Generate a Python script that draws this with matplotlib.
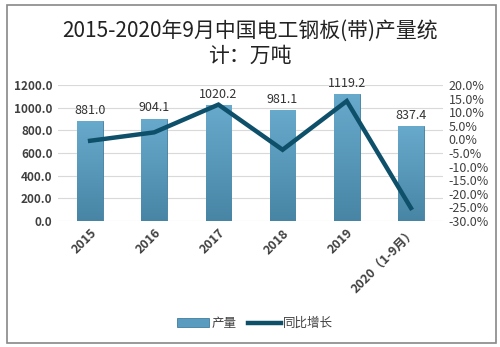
from matplotlib import pyplot as plt
from matplotlib.patches import Rectangle
from matplotlib.colors import LinearSegmentedColormap
from matplotlib.ticker import FuncFormatter
import numpy as np

plt.rcParams['font.family'] = ['Noto Sans CJK SC', 'DejaVu Sans']

years = ['2015', '2016', '2017', '2018', '2019', '2020（1-9月）']
output = [881.0, 904.1, 1020.2, 981.1, 1119.2, 837.4]
growth = [-0.5, 2.6, 12.8, -3.8, 14.1, -25.2]

fig = plt.figure(figsize=(5, 3.47), dpi=100)
fig.patches.append(Rectangle((0.013, 0.012), 0.978, 0.974, transform=fig.transFigure,
                             fill=False, edgecolor='#888888', linewidth=1.2))

ax = fig.add_axes([0.116, 0.363, 0.77, 0.392])
x = np.arange(len(years))
bars = ax.bar(x, output, width=0.4, color='#5a9cc0', edgecolor='#3f7d9e',
              linewidth=0.6, label='产量', zorder=2)

# vertical gradient inside each bar
cmap = LinearSegmentedColormap.from_list('bar', ['#4885a5', '#68aacc'])
grad = np.linspace(0, 1, 256).reshape(-1, 1)
for b in bars:
    x0, w, h = b.get_x(), b.get_width(), b.get_height()
    im = ax.imshow(grad, cmap=cmap, origin='lower', aspect='auto',
                   extent=(x0, x0 + w, 0, h), zorder=2.5)
    im.set_clip_path(b)

for xi, v in zip(x, output):
    ax.text(xi, v + 38, f'{v:.1f}', ha='center', va='bottom',
            fontsize=9, color='#333333')

ax.set_xlim(-0.5, len(years) - 0.5)
ax.set_ylim(0, 1200)
ax.set_yticks(np.arange(0, 1201, 200))
ax.yaxis.set_major_formatter(FuncFormatter(lambda v, p: f'{v:.1f}'))
ax.grid(axis='y', color='#d9d9d9', linewidth=0.8, zorder=0)
ax.set_axisbelow(True)
for s in ax.spines.values():
    s.set_visible(False)
ax.tick_params(length=0, labelsize=8.5, colors='#404040', pad=4)
ax.set_xticks(x)
ax.set_xticklabels(years, rotation=45, ha='right', rotation_mode='anchor',
                   fontweight='bold', fontsize=9)
for t in ax.get_yticklabels():
    t.set_fontweight('bold')

ax2 = ax.twinx()
line, = ax2.plot(x, growth, color='#0e4f6a', linewidth=3.2, label='同比增长',
                 solid_joinstyle='miter', zorder=3)
ax2.set_ylim(-30, 20)
ax2.set_yticks(np.arange(-30, 21, 5))
ax2.yaxis.set_major_formatter(FuncFormatter(lambda v, p: f'{v:.1f}%'))
for s in ax2.spines.values():
    s.set_visible(False)
ax2.tick_params(length=0, labelsize=9, colors='#404040', pad=4)

fig.text(0.5, 0.912, '2015-2020年9月中国电工钢板(带)产量统', ha='center', va='center',
         fontsize=15, fontweight='medium', color='#222222')
fig.text(0.5, 0.838, '计：万吨', ha='center', va='center',
         fontsize=15, fontweight='medium', color='#222222')

fig.legend([bars, line], ['产量', '同比增长'], loc='center', bbox_to_anchor=(0.51, 0.068),
           ncol=2, frameon=False, fontsize=9, handlelength=2.6, columnspacing=0.9,
           handletextpad=0.2, labelcolor='#404040')

fig.savefig('out.png', dpi=100)
